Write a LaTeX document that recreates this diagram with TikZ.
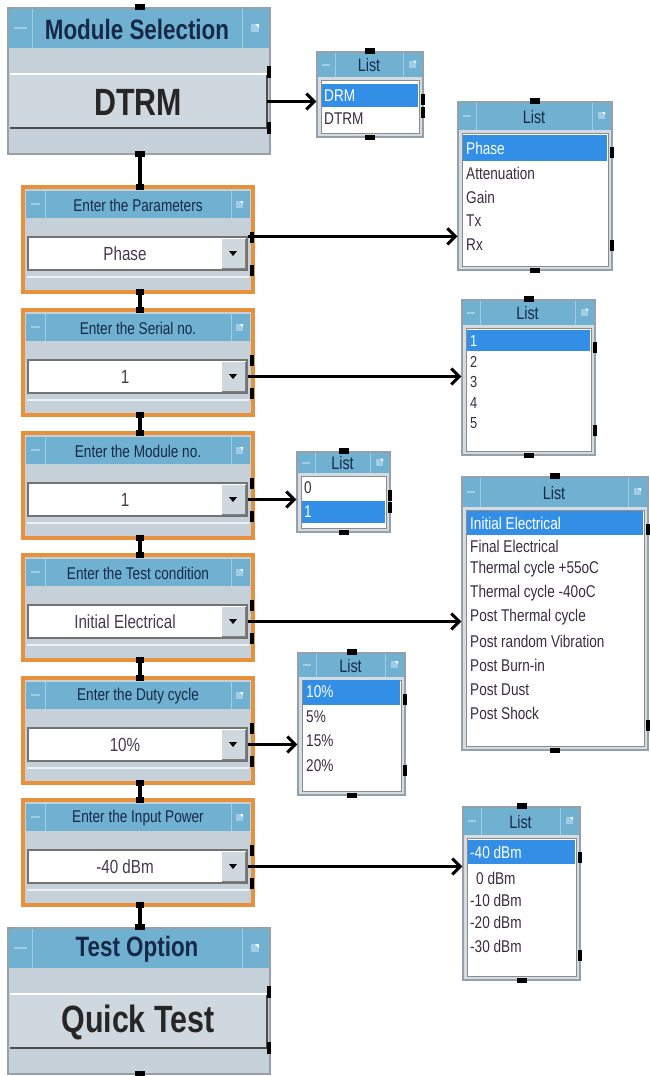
\documentclass[tikz,border=0pt]{standalone}
\usepackage{fontspec}
\setmainfont[FakeStretch=0.8]{Liberation Sans}
\usetikzlibrary{arrows.meta,fit}
\definecolor{tb}{RGB}{112,176,208}
\definecolor{tbline}{RGB}{160,205,228}
\definecolor{ttext}{RGB}{22,42,72}
\definecolor{bodyg}{RGB}{198,208,216}
\definecolor{btng}{RGB}{208,216,223}
\definecolor{frameg}{RGB}{150,160,170}
\definecolor{orng}{RGB}{232,145,60}
\definecolor{hl}{RGB}{51,143,230}
\definecolor{itext}{RGB}{58,45,62}
\definecolor{vtext}{RGB}{70,58,78}
\definecolor{lbody}{RGB}{212,220,226}
\tikzset{
  titleL/.style={font=\fontsize{28}{30}\selectfont\bfseries, text=ttext, inner sep=0pt},
  valL/.style={font=\fontsize{38}{40}\selectfont\bfseries, text=black!85, inner sep=0pt},
  otitle/.style={font=\fontsize{17}{19}\selectfont, text=ttext, inner sep=0pt},
  oval/.style={font=\fontsize{19}{21}\selectfont, text=vtext, inner sep=0pt},
  ltitle/.style={font=\fontsize{18}{20}\selectfont, text=ttext, inner sep=0pt},
  item/.style={font=\fontsize{17}{19}\selectfont, text=itext, anchor=west, inner sep=0pt},
  itemS/.style={font=\fontsize{16}{18}\selectfont, text=itext, anchor=west, inner sep=0pt},
  hitem/.style={item, text=white},
  hitemS/.style={itemS, text=white},
  sep/.style={draw=tbline, line width=1pt},
  minus/.style={draw=tbline, line width=2pt},
  pin/.style={fill=black},
  vline/.style={draw=black, line width=3.5pt},
  arr/.style={draw=black, line width=3pt, -{Straight Barb[length=8pt,width=16pt]}},
}
\newcommand\bigbox[4]{%
  \coordinate (#1-nw) at (8,#2);
  \coordinate (#1-se) at (270,{#2+146});
  \node[fit=(#1-nw)(#1-se), inner sep=0pt, draw=frameg, fill=bodyg, line width=1.2pt] (#1) {};
  \fill[tb] (9,{#2+1}) rectangle (269,{#2+40});
  \draw[sep] (32,{#2+1}) -- (32,{#2+40});
  \draw[sep] (242,{#2+1}) -- (242,{#2+40});
  \draw[minus] (14,{#2+20}) -- (27,{#2+20});
  \fill[tbline] (251,{#2+16}) rectangle (259,{#2+24});
  \fill[white] (255,{#2+16}) -- (259,{#2+16}) -- (259,{#2+20}) -- cycle;
  \node[titleL] (#1-t) at (137,{#2+21}) {#3};
  \draw[white, line width=1.5pt] (10,{#2+66}) -- (267,{#2+66});
  \coordinate (#1-ba) at (10,{#2+67});
  \coordinate (#1-bb) at (267,{#2+120});
  \node[fit=(#1-ba)(#1-bb), inner sep=0pt, fill=btng] (#1-b) {};
  \draw[black!70, line width=1.5pt] (10,{#2+120}) -- (267,{#2+120}) -- (267,{#2+67});
  \node[valL] (#1-v) at (138,{#2+94}) {#4};
  \fill[pin] (135,{#2-4}) rectangle (145,{#2+2});
  \fill[pin] (135,{#2+143}) rectangle (145,{#2+149});
  \fill[pin] (267,{#2+58}) rectangle (271,{#2+70});
  \fill[pin] (267,{#2+114}) rectangle (271,{#2+126});
}
\newcommand\obox[4]{%
  \coordinate (#1-nw) at (23,#2);
  \coordinate (#1-se) at (253,{#2+105});
  \node[fit=(#1-nw)(#1-se), inner sep=0pt, draw=orng, fill=bodyg, line width=4pt] (#1) {};
  \fill[tb] (26,{#2+4}) rectangle (250,{#2+31});
  \draw[sep] (45,{#2+4}) -- (45,{#2+31});
  \draw[sep] (231,{#2+4}) -- (231,{#2+31});
  \draw[minus] (31,{#2+17}) -- (40,{#2+17});
  \fill[tbline] (236,{#2+14}) rectangle (243,{#2+21});
  \fill[white] (240,{#2+14}) -- (243,{#2+14}) -- (243,{#2+17}) -- cycle;
  \node[otitle] (#1-t) at (138,{#2+18}) {#3};
  \coordinate (#1-da) at (28,{#2+50});
  \coordinate (#1-db) at (247,{#2+83});
  \node[fit=(#1-da)(#1-db), inner sep=0pt, fill=white, draw=black!55, line width=1.2pt] (#1-dd) {};
  \fill[btng] (222,{#2+52}) rectangle (245,{#2+81});
  \draw[black!50, line width=1pt] (222,{#2+81}) -- (245,{#2+81}) -- (245,{#2+52});
  \fill[black] (229,{#2+64}) -- (237,{#2+64}) -- (233,{#2+69}) -- cycle;
  \node[oval] (#1-v) at (125,{#2+67}) {#4};
  \draw[white!70!bodyg, line width=2pt] (27,{#2+90}) -- (249,{#2+90});
  \fill[pin] (136,{#2-3}) rectangle (144,{#2+3});
  \fill[pin] (136,{#2+102}) rectangle (144,{#2+108});
  \fill[pin] (250,{#2+45}) rectangle (254,{#2+56});
  \fill[pin] (250,{#2+78}) rectangle (254,{#2+89});
}
\newcommand\lw[6]{%
  \coordinate (#1-nw) at (#2,#3);
  \coordinate (#1-se) at (#4,#5);
  \node[fit=(#1-nw)(#1-se), inner sep=0pt, draw=frameg, fill=lbody, line width=1.2pt] (#1) {};
  \fill[tb] ({#2+1},{#3+1}) rectangle ({#4-1},{#3+#6});
  \draw[sep] ({#2+18},{#3+1}) -- ({#2+18},{#3+#6});
  \draw[sep] ({#4-20},{#3+1}) -- ({#4-20},{#3+#6});
  \draw[minus] ({#2+5},{#3+#6/2}) -- ({#2+13},{#3+#6/2});
  \fill[tbline] ({#4-14},{#3+#6/2-4}) rectangle ({#4-7},{#3+#6/2+3});
  \fill[white] ({#4-10},{#3+#6/2-4}) -- ({#4-7},{#3+#6/2-4}) -- ({#4-7},{#3+#6/2-1}) -- cycle;
  \node[ltitle] (#1-t) at ({(#2+#4)/2-1},{#3+#6/2+1}) {List};
  \fill[white, draw=black!45, line width=1pt] ({#2+4},{#3+#6+3}) rectangle ({#4-4},{#5-4});
  \fill[pin] ({(#2+#4)/2-5},{#3-4}) rectangle ({(#2+#4)/2+5},{#3+2});
  \fill[pin] ({(#2+#4)/2-5},{#5-2}) rectangle ({(#2+#4)/2+5},{#5+3});
  \fill[pin] ({#4-2},{#3+#6+17}) rectangle ({#4+2},{#3+#6+28});
  \fill[pin] ({#4-2},{#5-30}) rectangle ({#4+2},{#5-19});
}
\begin{document}
\begin{tikzpicture}[x=1pt,y=-1pt]
\useasboundingbox[fill=white] (0,0) rectangle (649,1076);

% vertical connectors (under the boxes' pins)
\coordinate (cx) at (140,0);

% main column
\bigbox{ms}{8}{Module Selection}{DTRM}
\obox{pa}{187}{Enter the Parameters}{Phase}
\obox{se}{310}{Enter the Serial no.}{1}
\obox{mo}{433}{Enter the Module no.}{1}
\obox{tc}{555}{Enter the Test condition}{Initial Electrical}
\obox{du}{678}{Enter the Duty cycle}{10\%}
\obox{ip}{800}{Enter the Input Power}{-40 dBm}
\bigbox{to}{928}{Test Option}{Quick Test}

% lists
\lw{la}{317}{52}{423}{137}{25}
\fill[hl] (322,84) rectangle (418,107);
\node[hitem] (la-1) at (324,96) {DRM};
\node[item] (la-2) at (324,119) {DTRM};

\lw{lb}{458}{102}{612}{270}{28}
\fill[hl] (463,135) rectangle (607,161);
\node[hitem] (lb-1) at (466,148) {Phase};
\node[item] (lb-2) at (466,173) {Attenuation};
\node[item] (lb-3) at (466,197) {Gain};
\node[item] (lb-4) at (466,221) {Tx};
\node[item] (lb-5) at (466,245) {Rx};

\lw{lc}{462}{300}{595}{455}{25}
\fill[hl] (467,330) rectangle (590,351);
\node[hitemS] (lc-1) at (470,341) {1};
\node[itemS] (lc-2) at (470,362) {2};
\node[itemS] (lc-3) at (470,382) {3};
\node[itemS] (lc-4) at (470,403) {4};
\node[itemS] (lc-5) at (470,423) {5};

\lw{ld}{297}{452}{390}{532}{21}
\node[item] (ld-1) at (304,488) {0};
\fill[hl] (302,501) rectangle (385,523);
\node[hitem] (ld-2) at (304,512) {1};

\lw{le}{462}{477}{648}{750}{30}
\fill[hl] (467,511) rectangle (643,535);
\node[hitem] (le-1) at (470,523) {Initial Electrical};
\node[item] (le-2) at (470,546) {Final Electrical};
\node[item] (le-3) at (470,569) {Thermal cycle +55oC};
\node[item] (le-4) at (470,593) {Thermal cycle -40oC};
\node[item] (le-5) at (470,617) {Post Thermal cycle};
\node[item] (le-6) at (470,641) {Post random Vibration};
\node[item] (le-7) at (470,665) {Post Burn-in};
\node[item] (le-8) at (470,690) {Post Dust};
\node[item] (le-9) at (470,713) {Post Shock};

\lw{lf}{298}{653}{405}{795}{24}
\fill[hl] (303,680) rectangle (400,705);
\node[hitem] (lf-1) at (306,692) {10\%};
\node[item] (lf-2) at (306,717) {5\%};
\node[item] (lf-3) at (306,741) {15\%};
\node[item] (lf-4) at (306,766) {20\%};

\lw{lg}{463}{807}{580}{980}{28}
\fill[hl] (468,840) rectangle (575,864);
\node[hitem] (lg-1) at (470,852) {-40 dBm};
\node[item] (lg-2) at (476,878) {0 dBm};
\node[item] (lg-3) at (470,900) {-10 dBm};
\node[item] (lg-4) at (470,922) {-20 dBm};
\node[item] (lg-5) at (470,946) {-30 dBm};

% vertical connectors
\draw[vline] (cx |- ms.south) -- (cx |- pa.north);
\draw[vline] (cx |- pa.south) -- (cx |- se.north);
\draw[vline] (cx |- se.south) -- (cx |- mo.north);
\draw[vline] (cx |- mo.south) -- (cx |- tc.north);
\draw[vline] (cx |- tc.south) -- (cx |- du.north);
\draw[vline] (cx |- du.south) -- (cx |- ip.north);
\draw[vline] (cx |- ip.south) -- (cx |- to.north);

% arrows
\draw[arr] (ms-b.east) -- (ms-b.east -| la.west);
\draw[arr] (pa-dd.north east) -- (pa-dd.north east -| lb.west);
\draw[arr] (se-dd.east) -- (se-dd.east -| lc.west);
\draw[arr] (mo-dd.east) -- (mo-dd.east -| ld.west);
\draw[arr] (tc-dd.east) -- (tc-dd.east -| le.west);
\draw[arr] (du-dd.east) -- (du-dd.east -| lf.west);
\draw[arr] (ip-dd.east) -- (ip-dd.east -| lg.west);
\end{tikzpicture}
\end{document}
